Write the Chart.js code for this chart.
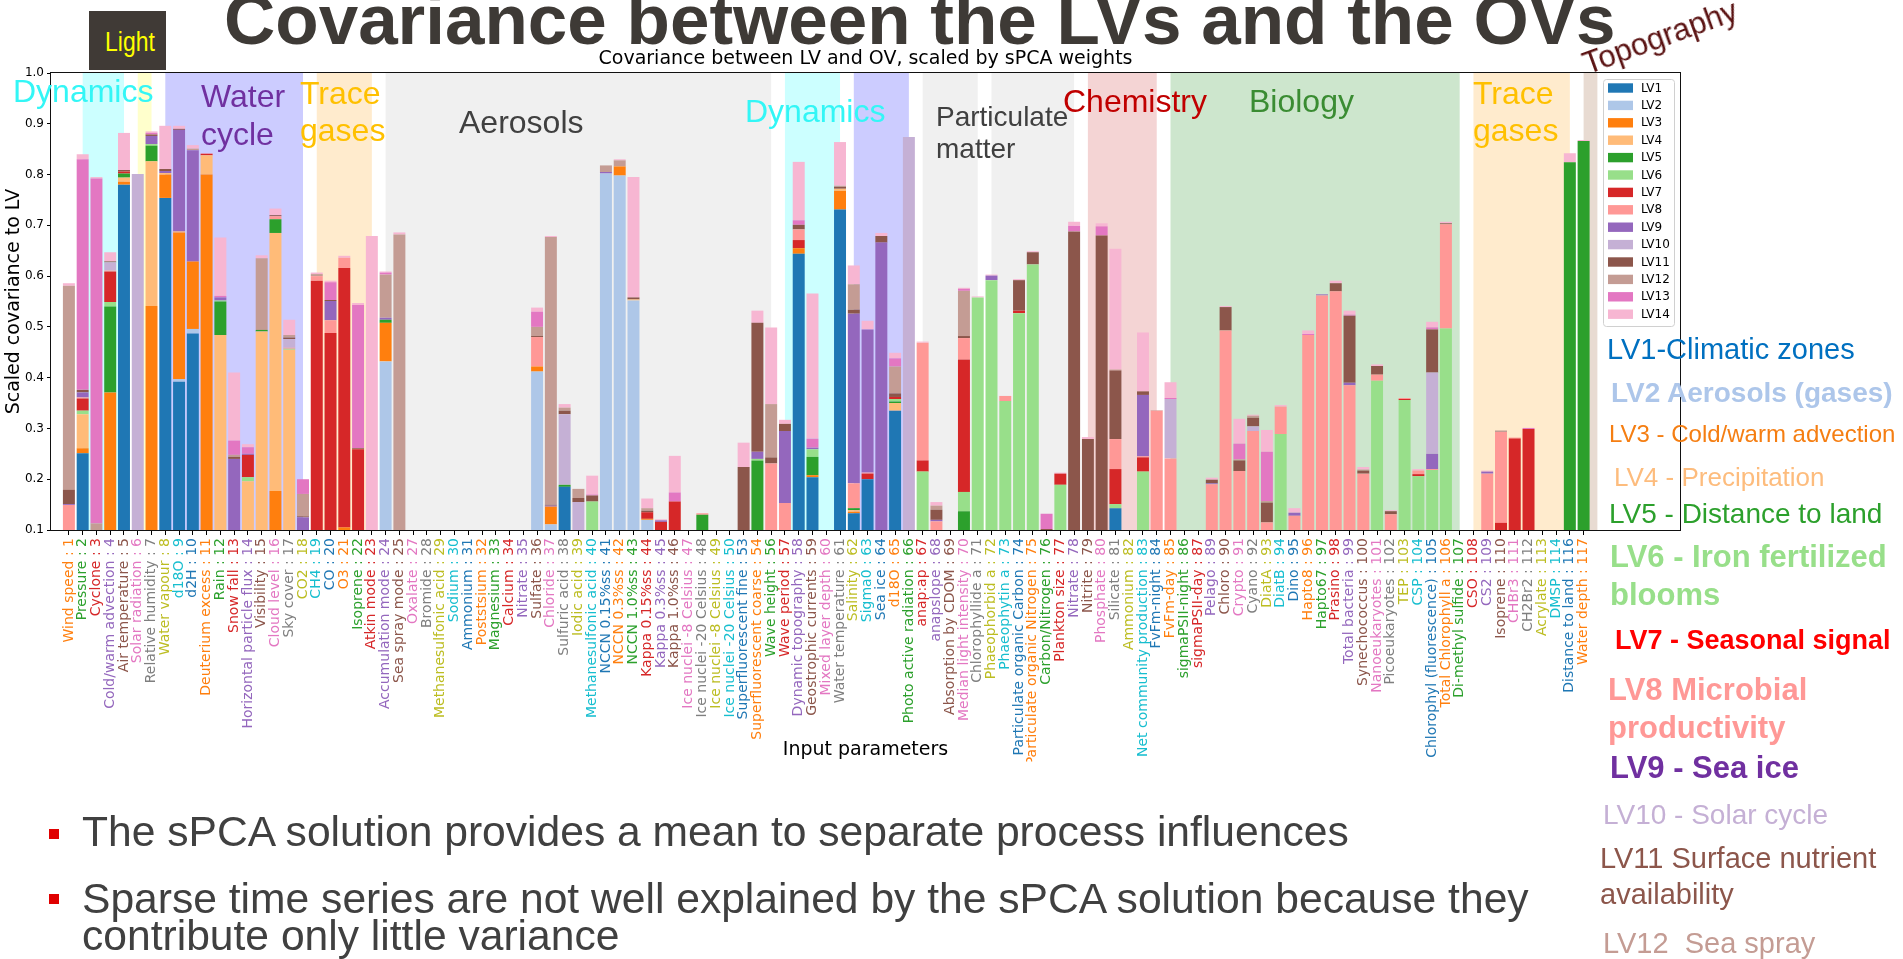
<!DOCTYPE html>
<html>
<head>
<meta charset="utf-8">
<title>Covariance between the LVs and the OVs</title>
<script src="https://cdn.jsdelivr.net/npm/chart.js@4.4.1/dist/chart.umd.min.js"></script>
<style>
  html, body { margin: 0; padding: 0; background: #fff; }
  #slide { position: relative; width: 1903px; height: 959px; overflow: hidden; font-family: 'Liberation Sans', Arial, sans-serif; }
  #slide canvas { position: absolute; left: 0; top: 0; }
  .t { position: absolute; white-space: pre; line-height: 1; }
  .b { font-weight: bold; }
  .sq { position: absolute; width: 10px; height: 10px; background: #e00000; }
</style>
</head>
<body>
<div id="slide">
  <canvas id="chart" width="1903" height="959"></canvas>

  <!-- slide heading and side boxes -->
  <div class="t b" style="left:224px; top:-16px; font-size:71px; color:#3e3a36;">Covariance between the LVs and the OVs</div>
  <div style="position:absolute; left:89px; top:11px; width:77px; height:59px; background:#403a36;"></div>
  <div class="t" style="left:130px; top:29px; font-size:27px; color:#ffff00; transform:translateX(-50%) scaleX(0.85);">Light</div>
  <div class="t" style="left:1660px; top:37px; font-size:31px; color:#5a1212; transform:translate(-50%,-50%) rotate(-20deg);">Topography</div>

  <!-- process group names over the shaded spans -->
  <div class="t" style="left:13px; top:75px; font-size:32px; color:#33f6f6;">Dynamics</div>
  <div class="t" style="left:201px; top:80px; font-size:32px; color:#7030a0;">Water</div>
  <div class="t" style="left:201px; top:118px; font-size:32px; color:#7030a0;">cycle</div>
  <div class="t" style="left:300px; top:77px; font-size:32px; color:#ffc000;">Trace</div>
  <div class="t" style="left:300px; top:114px; font-size:32px; color:#ffc000;">gases</div>
  <div class="t" style="left:459px; top:106px; font-size:32px; color:#404040;">Aerosols</div>
  <div class="t" style="left:745px; top:95px; font-size:32px; color:#33f6f6;">Dynamics</div>
  <div class="t" style="left:936px; top:103px; font-size:28px; color:#404040;">Particulate</div>
  <div class="t" style="left:936px; top:135px; font-size:28px; color:#404040;">matter</div>
  <div class="t" style="left:1063px; top:85px; font-size:32px; color:#c00000;">Chemistry</div>
  <div class="t" style="left:1249px; top:85px; font-size:32px; color:#3a8c32;">Biology</div>
  <div class="t" style="left:1473px; top:77px; font-size:32px; color:#ffc000;">Trace</div>
  <div class="t" style="left:1473px; top:114px; font-size:32px; color:#ffc000;">gases</div>

  <!-- meaning of each latent variable -->
  <div class="t" style="left:1607px; top:335px; font-size:29px; color:#0070c0;">LV1-Climatic zones</div>
  <div class="t b" style="left:1611px; top:379px; font-size:28px; color:#adc6ea;">LV2 Aerosols (gases)</div>
  <div class="t" style="left:1609px; top:422px; font-size:24px; color:#f57e12;">LV3 - Cold/warm advection</div>
  <div class="t" style="left:1614px; top:464px; font-size:26px; color:#fdbc7d;">LV4 - Precipitation</div>
  <div class="t" style="left:1609px; top:500px; font-size:28px; color:#2ca02c;">LV5 - Distance to land</div>
  <div class="t b" style="left:1610px; top:541px; font-size:31px; color:#98df8a;">LV6 - Iron fertilized</div>
  <div class="t b" style="left:1610px; top:579px; font-size:31px; color:#98df8a;">blooms</div>
  <div class="t b" style="left:1615px; top:627px; font-size:27px; color:#ff0000;">LV7 - Seasonal signal</div>
  <div class="t b" style="left:1608px; top:674px; font-size:31px; color:#ff9896;">LV8 Microbial</div>
  <div class="t b" style="left:1608px; top:712px; font-size:31px; color:#ff9896;">productivity</div>
  <div class="t b" style="left:1610px; top:752px; font-size:31px; color:#7030a0;">LV9 - Sea ice</div>
  <div class="t" style="left:1603px; top:801px; font-size:28px; color:#c5b0d5;">LV10 - Solar cycle</div>
  <div class="t" style="left:1600px; top:844px; font-size:29px; color:#8c564b;">LV11 Surface nutrient</div>
  <div class="t" style="left:1600px; top:880px; font-size:29px; color:#8c564b;">availability</div>
  <div class="t" style="left:1603px; top:929px; font-size:29px; color:#c49c94;">LV12  Sea spray</div>

  <!-- bullet points -->
  <div class="sq" style="left:49px; top:829px;"></div>
  <div class="t" style="left:82px; top:810px; font-size:42.6px; color:#404040;">The sPCA solution provides a mean to separate process influences</div>
  <div class="sq" style="left:49px; top:894px;"></div>
  <div class="t" style="left:82px; top:877px; font-size:42.6px; color:#404040;">Sparse time series are not well explained by the sPCA solution because they</div>
  <div class="t" style="left:82px; top:914px; font-size:42.6px; color:#404040;">contribute only little variance</div>
</div>

<script>
// Input parameter numbers and names, in plotting order
const paramIds = [1,2,3,4,5,6,7,8,9,10,11,12,13,14,15,16,17,18,19,20,21,22,23,24,25,
  27,28,29,30,31,32,33,34,35,36,37,38,39,40,41,42,43,44,45,46,47,48,49,50,
  53,54,56,57,58,59,60,61,62,63,64,65,66,67,68,69,70,71,72,73,74,75,76,77,78,79,80,
  81,82,83,84,85,86,87,89,90,91,92,93,94,95,96,97,98,99,100,101,102,103,104,105,106,
  107,108,109,110,111,112,113,114,116,117];

const paramNames = ['Wind speed','Pressure','Cyclone','Cold/warm advection','Air temperature',
  'Solar radiation','Relative humidity','Water vapour','d18O','d2H','Deuterium excess','Rain',
  'Snow fall','Horizontal particle flux','Visibility','Cloud level','Sky cover','CO2','CH4','CO',
  'O3','Isoprene','Atkin mode','Accumulation mode','Sea spray mode','Oxalate','Bromide',
  'Methanesulfonic acid','Sodium','Ammonium','Poststsium','Magnesium','Calcium','Nitrate',
  'Sulfate','Chloride','Sulfuric acid','Iodic acid','Methanesulfonic acid','NCCN 0.15%ss',
  'NCCN 0.3%ss','NCCN 1.0%ss','Kappa 0.15%ss','Kappa 0.3%ss','Kappa 1.0%ss',
  'Ice nuclei -8 Celsius','Ice nuclei -20 Celsius','Ice nuclei -8 Celsius','Ice nuclei -20 Celsius',
  'Superfluorescent fine','Superfluorescent coarse','Wave height','Wave period',
  'Dynamic topography','Geostrophic currents','Mixed layer depth','Water temperature','Salinity',
  'Sigma0','Sea ice','d18O','Photo active radiation','anap:ap','anapslope','Absorption by CDOM',
  'Median light intensity','Chlorophyllide a','Phaeophorbid a','Phaeophytin a',
  'Particulate organic Carbon','Particulate organic Nitrogen','Carbon/Nitrogen','Plankton size',
  'Nitrate','Nitrite','Phosphate','Silicate','Ammonium','Net community production','FvFm-night',
  'FvFm-day','sigmaPSII-night','sigmaPSII-day','Pelago','Chloro','Crypto','Cyano','DiatA','DiatB',
  'Dino','Hapto8','Hapto67','Prasino','Total bacteria','Synechococcus','Nanoeukaryotes',
  'Picoeukaryotes','TEP','CSP','Chlorophyl (fluorescence)','Total Chlorophyll a',
  'Di-methyl sulfide','CSO','CS2','Isoprene','CHBr3','CH2Br2','Acrylate','DMSP',
  'Distance to land','Water depth'];

// Scaled covariance of each latent variable, as [parameter number, value]
const LV1 = [[2,.251],[5,.780],[8,.754],[9,.392],[10,.487],[38,.185],[58,.644],[59,.204],[61,.731],
  [62,.133],[63,.200],[65,.335],[81,.143]];
const LV2 = [[9,.005],[10,.009],[24,.432],[36,.412],[37,.111],[41,.802],[42,.798],[43,.552],[44,.120]];
const LV3 = [[2,.010],[4,.371],[5,.006],[7,.541],[8,.046],[9,.289],[10,.133],[11,.800],[16,.177],
  [21,.105],[24,.076],[36,.010],[37,.035],[42,.018],[44,.002],[58,.011],[59,.004],[61,.037],[62,.003]];
const LV4 = [[2,.067],[5,.008],[7,.285],[8,.003],[9,.002],[11,.038],[12,.484],[14,.196],[15,.491],
  [16,.508],[17,.455],[43,.002],[61,.004],[62,.003],[65,.015]];
const LV5 = [[4,.169],[5,.008],[7,.031],[12,.066],[15,.003],[16,.027],[24,.006],[38,.004],[48,.130],
  [54,.237],[59,.036],[62,.004],[65,.003],[70,.137],[116,.824],[117,.866]];
const LV6 = [[2,.007],[4,.009],[7,.003],[12,.002],[14,.008],[17,.002],[40,.156],[54,.003],[59,.015],
  [65,.005],[67,.215],[70,.038],[71,.558],[72,.592],[73,.354],[74,.527],[75,.623],[77,.189],[81,.008],
  [83,.215],[94,.289],[101,.394],[103,.356],[104,.206],[105,.218],[106,.497]];
const LV7 = [[2,.024],[4,.060],[5,.004],[11,.003],[14,.044],[19,.591],[20,.488],[21,.511],[22,.259],
  [44,.013],[45,.116],[46,.156],[58,.016],[63,.011],[65,.004],[67,.022],[70,.261],[74,.005],[77,.022],
  [81,.069],[83,.028],[103,.002],[104,.004],[110,.114],[111,.280],[112,.299]];
const LV8 = [[1,.149],[2,.002],[4,.002],[16,.006],[17,.002],[19,.009],[20,.025],[21,.020],[36,.058],
  [48,.003],[56,.231],[57,.153],[58,.021],[62,.049],[63,.002],[67,.232],[68,.117],[70,.042],[73,.010],
  [81,.059],[83,.002],[84,.335],[85,.241],[89,.190],[90,.493],[91,.216],[92,.295],[93,.115],[94,.054],
  [95,.128],[96,.484],[97,.562],[98,.570],[99,.385],[100,.211],[101,.012],[102,.131],[103,.002],
  [104,.007],[105,.002],[106,.205],[109,.211],[110,.179],[111,.002]];
const LV9 = [[1,.002],[2,.010],[7,.016],[8,.004],[9,.200],[10,.219],[12,.006],[13,.240],[14,.002],
  [18,.125],[20,.038],[24,.004],[37,.002],[41,.003],[45,.003],[54,.014],[57,.142],[59,.003],[62,.334],
  [63,.282],[64,.666],[68,.003],[72,.009],[83,.121],[89,.002],[95,.006],[97,.002],[99,.005],[105,.030],
  [109,.004]];
const LV10 = [[4,.016],[6,.801],[17,.017],[38,.139],[39,.155],[66,.874],[85,.117],[92,.009],[105,.160]];
const LV11 = [[1,.028],[2,.005],[4,.002],[5,.003],[7,.003],[8,.004],[9,.002],[13,.004],[16,.002],
  [17,.003],[18,.002],[20,.002],[22,.002],[36,.002],[37,.002],[38,.007],[39,.008],[40,.012],[43,.004],
  [44,.003],[53,.224],[54,.254],[56,.012],[57,.014],[58,.009],[61,.004],[62,.008],[64,.013],[65,.007],
  [68,.020],[70,.004],[74,.060],[75,.024],[76,.102],[78,.688],[79,.279],[80,.680],[81,.135],[83,.007],
  [89,.007],[90,.046],[91,.021],[92,.017],[93,.039],[98,.016],[99,.132],[100,.006],[101,.017],
  [102,.006],[105,.085],[106,.002]];
const LV12 = [[1,.402],[3,.113],[10,.003],[13,.004],[15,.141],[17,.005],[18,.044],[19,.004],[24,.085],
  [25,.682],[36,.018],[37,.527],[38,.006],[39,.018],[41,.013],[42,.012],[44,.005],[56,.105],[61,.002],
  [62,.050],[65,.053],[68,.008],[70,.089],[81,.002],[84,.001],[91,.002],[92,.004],[93,.003],[100,.002],
  [110,.003]];
const LV13 = [[2,.454],[3,.679],[7,.003],[12,.003],[13,.028],[14,.013],[18,.029],[20,.035],[22,.282],
  [24,.004],[36,.030],[40,.002],[46,.018],[58,.009],[59,.018],[65,.016],[70,.004],[76,.030],[78,.011],
  [80,.018],[85,.002],[91,.031],[93,.097],[96,.002],[99,.002],[105,.004],[112,.002]];
const LV14 = [[1,.005],[2,.010],[3,.003],[4,.018],[5,.073],[7,.003],[8,.085],[9,.006],[10,.007],
  [11,.001],[12,.115],[13,.134],[14,.006],[15,.006],[16,.013],[17,.030],[19,.003],[20,.003],[21,.004],
  [22,.004],[23,.679],[24,.002],[25,.004],[36,.008],[37,.002],[38,.007],[40,.037],[42,.002],[43,.237],
  [44,.019],[45,.002],[46,.072],[53,.048],[54,.024],[56,.151],[57,.008],[58,.115],[59,.286],[61,.086],
  [62,.037],[63,.017],[64,.006],[65,.011],[67,.002],[68,.007],[70,.002],[71,.002],[72,.002],[74,.002],
  [75,.002],[77,.002],[78,.008],[79,.004],[80,.006],[81,.238],[83,.116],[85,.031],[89,.004],[90,.002],
  [91,.049],[92,.002],[93,.043],[94,.003],[95,.009],[96,.007],[98,.005],[99,.008],[100,.005],
  [101,.003],[102,.002],[104,.003],[105,.011],[106,.003],[109,.002],[116,.018],[117,.002]];

const seriesNames = ['LV1','LV2','LV3','LV4','LV5','LV6','LV7','LV8','LV9','LV10','LV11','LV12','LV13','LV14'];
const yTickValues = [0.1, 0.2, 0.3, 0.4, 0.5, 0.6, 0.7, 0.8, 0.9, 1.0];

// Styling
const seriesColors = ['#1f77b4','#aec7e8','#ff7f0e','#ffbb78','#2ca02c','#98df8a','#d62728',
  '#ff9896','#9467bd','#c5b0d5','#8c564b','#c49c94','#e377c2','#f7b6d2'];
const tickPalette = ['#1f77b4','#ff7f0e','#2ca02c','#d62728','#9467bd','#8c564b','#e377c2',
  '#7f7f7f','#bcbd22','#17becf'];

// Shaded process groups, in plotting-position units: [from, to, fill]
const groupSpans = [
  [1, 4, '#ccffff'], [5, 6, '#ffffcc'], [7, 17, '#ccccff'], [18, 22, '#ffebcd'],
  [23, 51, '#f0f0f0'], [52, 56, '#ccffff'], [57, 61, '#ccccff'], [62, 66, '#f0f0f0'],
  [67, 73, '#f0f0f0'], [74, 79, '#f4d4d4'], [80, 101, '#cde6cd'], [102, 109, '#ffebcd'],
  [110, 111, '#e8dbd2']
];

const tickLabels = paramNames.map((n, i) => n + ' : ' + paramIds[i]);
const lvSeries = [LV1, LV2, LV3, LV4, LV5, LV6, LV7, LV8, LV9, LV10, LV11, LV12, LV13, LV14];

const datasets = lvSeries.map((pairs, k) => {
  const byId = new Map(pairs);
  return {
    label: seriesNames[k],
    backgroundColor: seriesColors[k],
    borderWidth: 0,
    categoryPercentage: 1,
    barPercentage: 0.87,
    clip: 0,
    data: paramIds.map((id, p) => ({ x: p, y: byId.has(id) ? byId.get(id) : 0 }))
  };
});

const spanPlugin = {
  id: 'groupSpans',
  beforeDatasetsDraw(chart) {
    const { ctx, chartArea: a, scales: { x } } = chart;
    ctx.save();
    ctx.beginPath();
    ctx.rect(a.left, a.top, a.right - a.left, a.bottom - a.top);
    ctx.clip();
    groupSpans.forEach(([from, to, fill]) => {
      const x0 = x.getPixelForValue(from), x1 = x.getPixelForValue(to);
      ctx.fillStyle = fill;
      ctx.fillRect(x0, a.top, x1 - x0, a.bottom - a.top);
    });
    ctx.restore();
  }
};

const framePlugin = {
  id: 'axesFrame',
  afterDatasetsDraw(chart) {
    const { ctx, chartArea: a } = chart;
    ctx.save();
    ctx.strokeStyle = '#111';
    ctx.lineWidth = 1;
    ctx.strokeRect(Math.round(a.left) - 0.5, Math.round(a.top) - 0.5,
      Math.round(a.right - a.left) + 1, Math.round(a.bottom - a.top) + 1);
    ctx.restore();
  }
};

const legendPlugin = {
  id: 'insetLegend',
  afterDraw(chart) {
    const { ctx, chartArea: a } = chart;
    const sets = chart.data.datasets;
    const row = 17.4, w = 71, h = 247;
    const left = a.right - 6 - w, top = a.top + 6;
    ctx.save();
    ctx.beginPath();
    ctx.roundRect(left + 0.5, top + 0.5, w, h, 3);
    ctx.fillStyle = 'rgba(255,255,255,0.8)';
    ctx.fill();
    ctx.strokeStyle = '#d0d0d0';
    ctx.lineWidth = 1;
    ctx.stroke();
    ctx.font = "12px 'DejaVu Sans'";
    ctx.textBaseline = 'middle';
    sets.forEach((ds, i) => {
      const cy = top + 9 + i * row;
      ctx.fillStyle = ds.backgroundColor;
      ctx.fillRect(left + 5, cy - 4.7, 25, 9.4);
      ctx.fillStyle = '#000';
      ctx.fillText(ds.label, left + 38, cy + 0.5);
    });
    ctx.restore();
  }
};

Chart.defaults.font.family = "'DejaVu Sans', sans-serif";
Chart.defaults.color = '#000';

new Chart(document.getElementById('chart'), {
  type: 'bar',
  data: { datasets },
  options: {
    responsive: false,
    animation: false,
    devicePixelRatio: 1,
    layout: { padding: { top: 40, right: 223, bottom: 197.6, left: 0 } },
    plugins: {
      legend: { display: false },
      tooltip: { enabled: false },
      title: {
        display: true,
        text: 'Covariance between LV and OV, scaled by sPCA weights',
        fullSize: false,
        color: '#000',
        font: { size: 19, weight: 'normal' },
        padding: { top: 8, bottom: 2.2 }
      }
    },
    scales: {
      x: {
        type: 'linear',
        stacked: true,
        min: -1.3,
        max: 117,
        bounds: 'data',
        offset: false,
        afterBuildTicks: (s) => { s.ticks = paramIds.map((id, p) => ({ value: p })); },
        afterFit: (s) => { s.height = 231.4; },
        ticks: {
          autoSkip: false,
          minRotation: 90,
          maxRotation: 90,
          padding: 3,
          font: { size: 14 },
          color: (c) => tickPalette[(c.index + 1) % 10],
          callback: (v, i) => tickLabels[i]
        },
        grid: { display: true, offset: false, drawOnChartArea: false, drawTicks: true, tickLength: 5, color: '#000' },
        border: { display: false },
        title: { display: true, text: 'Input parameters', color: '#000', font: { size: 19 }, padding: { top: 0, bottom: 0 } }
      },
      y: {
        type: 'linear',
        stacked: true,
        min: 0.1,
        max: 1.0,
        bounds: 'data',
        afterBuildTicks: (s) => { s.ticks = yTickValues.map(v => ({ value: v })); },
        afterFit: (s) => { s.width = 51; },
        ticks: { font: { size: 12 }, padding: 3, callback: (v) => Number(v).toFixed(1) },
        grid: { drawOnChartArea: false, drawTicks: true, tickLength: 4, color: '#000' },
        border: { display: false },
        title: { display: true, text: 'Scaled covariance to LV', color: '#000', font: { size: 19 }, padding: { top: 3, bottom: 0 } }
      }
    }
  },
  plugins: [spanPlugin, framePlugin, legendPlugin]
});
</script>
</body>
</html>
